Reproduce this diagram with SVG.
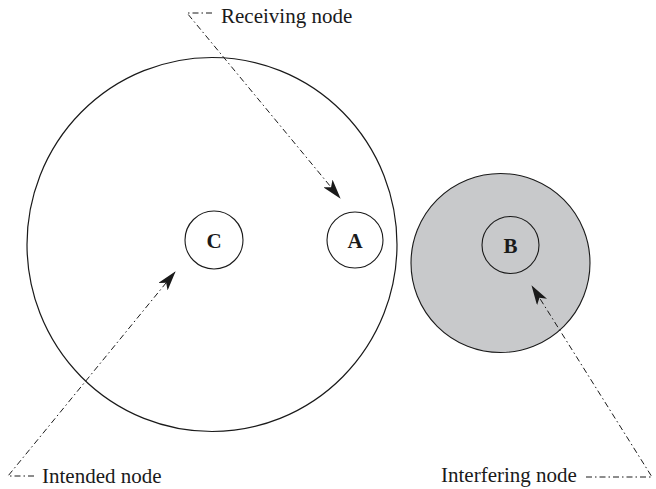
<svg xmlns="http://www.w3.org/2000/svg" width="656" height="489" viewBox="0 0 656 489">
  <style>
    .ring { fill: none; stroke: #1a1a1a; stroke-width: 1.2; }
    .node { fill: #ffffff; stroke: #1a1a1a; stroke-width: 1.1; }
    .shade { fill: #c8c9cb; stroke: #1a1a1a; stroke-width: 1.1; }
    .inner { fill: none; stroke: #1a1a1a; stroke-width: 1.1; }
    .lbl { font-family: "Liberation Serif", "Times New Roman", serif; font-size: 21px; font-weight: bold; fill: #1a1a1a; text-anchor: middle; }
    .cap { font-family: "Liberation Serif", "Times New Roman", serif; font-size: 21px; fill: #1a1a1a; }
    .lead { fill: none; stroke: #1a1a1a; stroke-width: 1; stroke-dasharray: 6 3 1.5 3; }
  </style>
  <defs>
    <marker id="head" viewBox="0 0 20 12" refX="19" refY="6" markerWidth="20" markerHeight="12" markerUnits="userSpaceOnUse" orient="auto">
      <path d="M0,0 L20,6 L0,12 L5,6 Z" fill="#1a1a1a"/>
    </marker>
  </defs>

  <rect width="656" height="489" fill="#ffffff"/>

  <!-- transmission range of C -->
  <g id="range-c">
    <ellipse class="ring" cx="212" cy="244.5" rx="185" ry="187"/>
  </g>

  <!-- interference range of B -->
  <g id="range-b">
    <circle class="shade" cx="500.5" cy="263" r="89.5"/>
  </g>

  <g id="node-c">
    <circle class="node" cx="214" cy="240" r="29"/>
    <text class="lbl" x="214" y="248">C</text>
  </g>

  <g id="node-a">
    <circle class="node" cx="355" cy="240" r="28"/>
    <text class="lbl" x="355" y="247.5">A</text>
  </g>

  <g id="node-b">
    <circle class="inner" cx="510.5" cy="245" r="28.5"/>
    <text class="lbl" x="510.5" y="253">B</text>
  </g>

  <!-- leader lines -->
  <g id="connectors">
    <path class="lead" d="M212,13 L187,13 L340,198" marker-end="url(#head)"/>
    <path class="lead" d="M34,476 L8,476 L175,272" marker-end="url(#head)"/>
    <path class="lead" d="M586,477 L652,477 L532,286" marker-end="url(#head)"/>
  </g>

  <g id="captions">
    <text class="cap" x="221" y="23">Receiving node</text>
    <text class="cap" x="42" y="483">Intended node</text>
    <text class="cap" x="441" y="482">Interfering node</text>
  </g>
</svg>
